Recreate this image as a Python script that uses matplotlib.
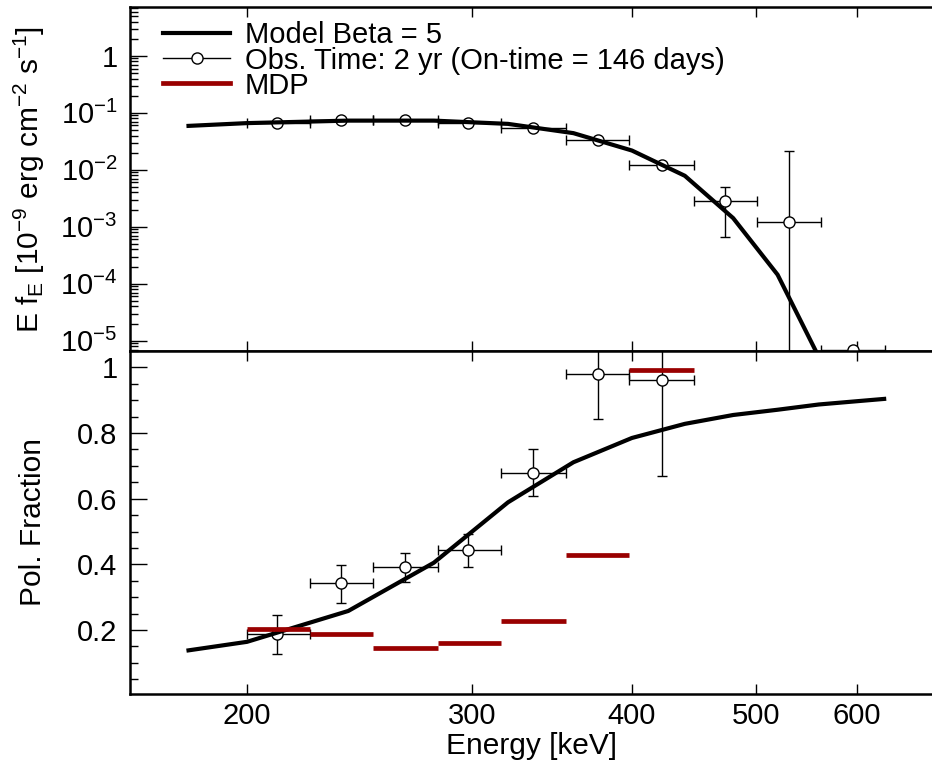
import numpy as np
import matplotlib
matplotlib.use('Agg')
import matplotlib.pyplot as plt
from matplotlib.lines import Line2D
from matplotlib.ticker import FixedLocator, FixedFormatter, NullLocator, MultipleLocator, LogLocator
from matplotlib.transforms import Bbox, TransformedBbox

plt.rcParams['font.family'] = ['Liberation Sans', 'DejaVu Sans']
plt.rcParams['mathtext.fontset'] = 'custom'
plt.rcParams['mathtext.rm'] = 'Liberation Sans'
plt.rcParams['mathtext.it'] = 'Liberation Sans:italic'
plt.rcParams['mathtext.sf'] = 'Liberation Sans'
plt.rcParams['mathtext.default'] = 'regular'

# ---- data ----
# energy bins [keV]
bin_lo = np.array([200, 224, 251, 282, 316, 355, 398, 447, 501, 562])
bin_hi = np.array([224, 251, 282, 316, 355, 398, 447, 501, 562, 631])
e_obs = np.array([211, 237, 266, 298, 335, 376, 422, 473, 531, 596])

# top panel: E f_E
flux = np.array([0.066, 0.0754, 0.075, 0.067, 0.054, 0.0336, 0.0121, 0.00278, 0.00119, 6.8e-6])
flux_lo = np.array([0.063, 0.072, 0.072, 0.064, 0.051, 0.031, 0.0108, 0.00065, 1e-9, 6.8e-6])
flux_hi = np.array([0.069, 0.079, 0.078, 0.070, 0.057, 0.036, 0.0134, 0.0049, 0.021, 6.8e-6])

# model curve
e_model = np.array([180, 200, 240, 280, 320, 360, 400, 440, 480, 520, 560, 600, 630])
flux_model = np.array([0.059, 0.066, 0.073, 0.073, 0.064, 0.044, 0.0218, 0.00785,
                       0.00142, 1.44e-4, 5.2e-6, 1e-7, 5e-9])
pol_model = np.array([0.138, 0.164, 0.258, 0.405, 0.589, 0.711, 0.785, 0.828,
                      0.855, 0.871, 0.887, 0.897, 0.904])

# bottom panel: polarization fraction (first 7 bins)
pol = np.array([0.187, 0.343, 0.392, 0.443, 0.677, 0.979, 0.962])
pol_lo = np.array([0.126, 0.283, 0.347, 0.393, 0.607, 0.843, 0.668])
pol_hi = np.array([0.245, 0.398, 0.436, 0.492, 0.750, 1.12, 1.26])
mdp = np.array([0.202, 0.187, 0.146, 0.160, 0.227, 0.430, 0.993])

red = '#990000'
fs = 21
lfs = 21.5

fig = plt.figure(figsize=(9.32, 7.64), dpi=100)
ax1 = fig.add_axes([0.1395, 0.5406, 0.8625, 0.4502])
ax2 = fig.add_axes([0.1395, 0.0916, 0.8625, 0.4490], sharex=ax1)

n = len(pol)

# ---- top ----
ax1.errorbar(e_obs, flux, xerr=[e_obs - bin_lo, bin_hi - e_obs],
             yerr=[flux - flux_lo, flux_hi - flux], fmt='none',
             ecolor='black', elinewidth=1, capsize=3.5, capthick=1, zorder=2)
ax1.plot(e_obs, flux, 'o', mfc='white', mec='black', ms=8, mew=1, zorder=3)
ax1.plot(e_model, flux_model, '-', color='black', lw=3, zorder=4)
ax1.set_yscale('log')
ax1.set_ylim(6.6e-6, 7.2)

# ---- bottom ----
ax2.errorbar(e_obs[:n], pol, xerr=[e_obs[:n] - bin_lo[:n], bin_hi[:n] - e_obs[:n]],
             yerr=[pol - pol_lo, pol_hi - pol], fmt='none',
             ecolor='black', elinewidth=1, capsize=3.5, capthick=1, zorder=2)
ax2.plot(e_obs[:n], pol, 'o', mfc='white', mec='black', ms=8, mew=1, zorder=3)
ax2.plot(e_model, pol_model, '-', color='black', lw=3, zorder=4)
ax2.hlines(mdp, bin_lo[:n], bin_hi[:n], color=red, lw=3.4, zorder=5)
ax2.set_ylim(0.005, 1.05)

ax2.set_xscale('log')
ax2.set_xlim(162, 689)

for ax in (ax1, ax2):
    ax.xaxis.set_major_locator(FixedLocator([200, 300, 400, 500, 600]))
    ax.xaxis.set_minor_locator(NullLocator())
    ax.tick_params(axis='x', which='major', direction='in', length=7, width=1,
                   top=True, bottom=True, labelsize=fs, pad=6)
    ax.tick_params(axis='y', which='major', direction='in', length=12, width=1,
                   labelsize=fs, pad=9, right=False)
    ax.tick_params(axis='y', which='minor', direction='in', length=6, width=1, right=False)
    for s in ax.spines.values():
        s.set_linewidth(1.8)

ax1.tick_params(axis='x', labelbottom=False)
ax2.xaxis.set_major_formatter(FixedFormatter(['200', '300', '400', '500', '600']))

ax1.yaxis.set_major_locator(FixedLocator([1, 1e-1, 1e-2, 1e-3, 1e-4, 1e-5]))
ax1.yaxis.set_major_formatter(FixedFormatter(['1', r'$10^{-1}$', r'$10^{-2}$', r'$10^{-3}$',
                                              r'$10^{-4}$', r'$10^{-5}$']))
ax1.yaxis.set_minor_locator(LogLocator(base=10, subs=np.arange(2, 10), numticks=20))

ax2.yaxis.set_major_locator(FixedLocator([0.2, 0.4, 0.6, 0.8, 1.0]))
ax2.yaxis.set_major_formatter(FixedFormatter(['0.2', '0.4', '0.6', '0.8', '1']))
ax2.yaxis.set_minor_locator(MultipleLocator(0.05))

ax1.set_ylabel(r'E f$_{E}$ [10$^{-9}$ erg cm$^{-2}$ s$^{-1}$]', fontsize=lfs)
ax2.set_ylabel('Pol. Fraction', fontsize=lfs)
ax2.set_xlabel('Energy [keV]', fontsize=lfs, labelpad=1)
ax1.yaxis.set_label_coords(-0.1035, 0.5)
ax2.yaxis.set_label_coords(-0.1035, 0.5)

# clip the top-panel tick labels at the panel boundary
clip = TransformedBbox(Bbox([[0, 0.5406], [1, 1]]), fig.transFigure)
for t in ax1.yaxis.get_major_ticks():
    t.label1.set_clip_box(clip)
    t.label1.set_clip_on(True)

handles = [
    Line2D([], [], color='black', lw=3),
    Line2D([], [], color='black', lw=1, marker='o', mfc='white', mec='black', ms=8),
    Line2D([], [], color=red, lw=3.4),
]
labels = ['Model Beta = 5', 'Obs. Time: 2 yr (On-time = 146 days)', 'MDP']
ax1.legend(handles, labels, loc='upper left', bbox_to_anchor=(0.041, 0.958),
           frameon=False, fontsize=21, borderpad=0, borderaxespad=0,
           handlelength=2.3, handletextpad=0.5, labelspacing=-0.1)

fig.savefig('out.png', dpi=100)
